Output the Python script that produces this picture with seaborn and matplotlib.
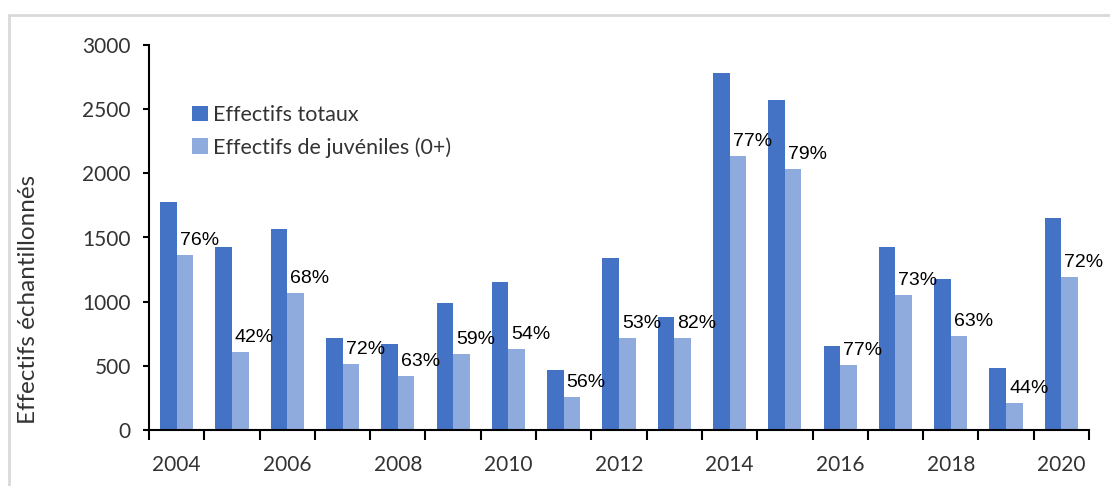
"""Effectifs totaux et juvéniles échantillonnés par année"""
import matplotlib
matplotlib.use('Agg')
import matplotlib.pyplot as plt
from matplotlib.lines import Line2D
from matplotlib.patches import Patch
from matplotlib.ticker import FixedLocator
import pandas as pd
import seaborn as sns

# Data
annees = [2004, 2005, 2006, 2007, 2008, 2009, 2010, 2011, 2012,
          2013, 2014, 2015, 2016, 2017, 2018, 2019, 2020]
effectifs_totaux = [1780, 1425, 1570, 715, 673, 986, 1155, 464, 1341,
                    881, 2783, 2572, 652, 1424, 1174, 485, 1654]
effectifs_juveniles = [1360, 607, 1069, 512, 423, 589, 631, 255, 715,
                       715, 2134, 2030, 506, 1049, 736, 214, 1194]
pourcentages = ['76%', '42%', '68%', '72%', '63%', '59%', '54%', '56%', '53%',
                '82%', '77%', '79%', '77%', '73%', '63%', '44%', '72%']
series = ['Effectifs totaux', 'Effectifs de juvéniles (0+)']
couleurs = ['#4472C4', '#8FAADC']

df = pd.DataFrame({
    'annee': [str(a) for a in annees] * 2,
    'effectif': effectifs_totaux + effectifs_juveniles,
    'serie': [series[0]] * len(annees) + [series[1]] * len(annees),
})

sns.set_style('white')
plt.rcParams['font.family'] = ['Lato', 'DejaVu Sans']

fig = plt.figure(figsize=(11.1, 4.86), dpi=100)
ax = fig.add_axes([149 / 1110, 1 - 430 / 486, 940 / 1110, 385 / 486])

sns.barplot(data=df, x='annee', y='effectif', hue='serie',
            palette=couleurs, width=0.6, linewidth=0, saturation=1,
            ax=ax)

# percentage labels above the juvenile bars
for patch, txt in zip(ax.containers[1], pourcentages):
    ax.annotate(txt, (patch.get_x(), patch.get_height()),
                xytext=(3, 6), textcoords='offset pixels',
                ha='left', va='bottom', fontsize=14,
                family=['Liberation Sans', 'DejaVu Sans'], color='black')

ax.set_xlim(-0.5, len(annees) - 0.5)
ax.set_ylim(0, 3000)
ax.set_yticks(range(0, 3001, 500))

# year labels every two years, tick marks between categories
ax.set_xticks(range(len(annees)))
ax.set_xticklabels([str(a) if a % 2 == 0 else '' for a in annees])
ax.xaxis.set_minor_locator(FixedLocator([i - 0.5 for i in range(len(annees) + 1)]))
ax.tick_params(axis='x', which='major', length=0, pad=18, labelsize=15,
               labelcolor='#333333')
ax.tick_params(axis='x', which='minor', length=7, width=1.5, color='black',
               direction='out', bottom=True)
ax.tick_params(axis='y', length=4, width=1.5, color='black', direction='out',
               left=True, pad=9, labelsize=15, labelcolor='#333333')

ax.set_xlabel('')
ax.set_ylabel('Effectifs échantillonnés', fontsize=17.5, color='#333333')
ax.yaxis.set_label_coords(-0.117, 0.34)

for side in ['top', 'right']:
    ax.spines[side].set_visible(False)
for side in ['left', 'bottom']:
    ax.spines[side].set_color('black')
    ax.spines[side].set_linewidth(1.5)

handles = [Patch(facecolor=c, edgecolor='none') for c in couleurs]
ax.legend(handles, series, loc='upper left', bbox_to_anchor=(0.0457, 0.844),
          frameon=False, fontsize=15.5, handlelength=0.75, handleheight=0.75,
          handletextpad=0.25, labelspacing=0.56, borderpad=0, borderaxespad=0,
          labelcolor='#333333')

# light grey frame of the chart area (top and left edges)
fig.add_artist(Line2D([9 / 1110, 1], [1 - 15 / 486] * 2,
                      transform=fig.transFigure, color='#d9d9d9', lw=2))
fig.add_artist(Line2D([9 / 1110] * 2, [0, 1 - 15 / 486],
                      transform=fig.transFigure, color='#d9d9d9', lw=2))

fig.savefig('out.png', dpi=100)
